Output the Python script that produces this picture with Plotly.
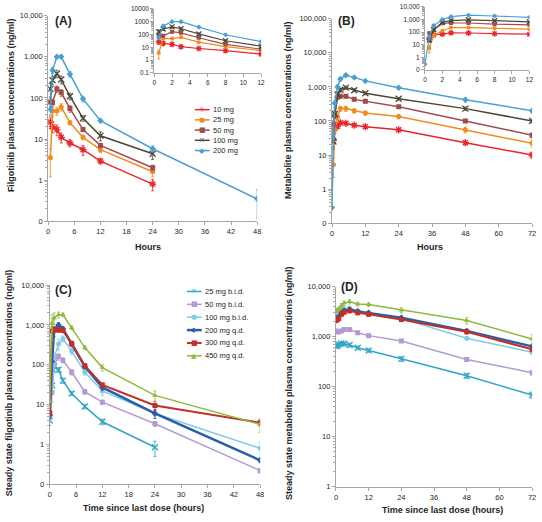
import plotly.graph_objects as go

W, H = 542, 522

# ---------------- Panel A: filgotinib, single dose (ng/ml) ----------------
a_labels = ["10 mg", "25 mg", "50 mg", "100 mg", "200 mg"]
a_time = [0.5, 1, 2, 3, 5, 8, 12, 24]
a_time_200 = [0.5, 1, 2, 3, 5, 8, 12, 24, 48]
a_10 = [26, 20, 17, 11, 8, 5.5, 2.9, 0.8]
a_10_sd = [8, 6, 5, 3, 1.5, 1.5, 0.4, 0.25]
a_25 = [3.5, 48, 48, 60, 25, 11, 5.5, 1.6]
a_25_sd = [2.3, 12, 10, 12, 3, 1.5, 0.8, 0.4]
a_50 = [80, 78, 165, 135, 55, 17, 7, 2.0]
a_50_sd = [20, 15, 30, 25, 10, 2, 0.8, 0.3]
a_100 = [165, 270, 390, 280, 110, 32, 12, 4.4]
a_100_sd = [60, 60, 80, 60, 20, 5, 3, 1.2]
a_200 = [53, 470, 1000, 1000, 380, 95, 28, 5.8, 0.35]
a_200_sd = [15, 80, 100, 100, 60, 15, 3, 1, 0.23]

# ---------------- Panel B: metabolite, single dose (ng/ml) ----------------
b_time = [0.5, 1, 2, 3, 5, 8, 12, 24, 48, 72]
b_time_200 = [0, 0.5, 1, 2, 3, 5, 8, 12, 24, 48, 72]
b_10 = [27, 60, 70, 88, 85, 75, 68, 55, 23, 10]
b_10_sd = [10, 12, 10, 10, 8, 7, 7, 6, 3, 2]
b_25 = [5.2, 55, 130, 230, 230, 200, 170, 135, 55, 22]
b_25_sd = [3, 12, 20, 40, 40, 30, 25, 20, 10, 5]
b_50 = [80, 150, 500, 530, 530, 430, 380, 260, 100, 38]
b_50_sd = [20, 30, 60, 60, 60, 40, 40, 25, 10, 6]
b_100 = [25, 160, 600, 820, 950, 800, 650, 450, 230, 100]
b_100_sd = [10, 40, 100, 100, 100, 80, 60, 40, 25, 12]
b_200 = [0.29, 42, 330, 1000, 1700, 2200, 1900, 1500, 950, 420, 200]
b_200_sd = [0, 15, 80, 150, 200, 200, 150, 150, 100, 60, 30]

# ---------------- Panel C: filgotinib, steady state (ng/ml) ----------------
c_labels = ["25 mg b.i.d.", "50 mg b.i.d.", "100 mg b.i.d.", "200 mg q.d.", "300 mg q.d.", "450 mg q.d."]
c_time = [0, 0.5, 1, 2, 3, 5, 8, 12, 24, 48]
c_time_25 = [0, 0.5, 1, 2, 3, 5, 8, 12, 24]
c_25 = [4, 30, 90, 75, 40, 19, 9, 3.7, 0.85]
c_25_sd = [1, 10, 25, 10, 6, 2, 1.2, 0.6, 0.35]
c_50 = [5, 20, 100, 160, 130, 65, 21, 11.5, 3.3, 0.22]
c_50_sd = [1, 8, 30, 30, 20, 10, 3, 1.5, 0.5, 0.03]
c_100 = [12, 30, 150, 330, 450, 220, 65, 22, 6, 0.8]
c_100_sd = [8, 10, 50, 100, 80, 40, 10, 5, 1.5, 0.35]
c_200 = [5.5, 120, 700, 1000, 800, 330, 90, 27, 6, 0.4]
c_200_sd = [1, 50, 200, 150, 100, 40, 10, 4, 1.5, 0.05]
c_300 = [6.2, 700, 780, 750, 730, 340, 95, 31, 9.5, 3.5]
c_300_sd = [1, 150, 100, 100, 100, 50, 12, 4, 2.5, 0.6]
c_450 = [12, 1100, 1500, 1800, 1800, 850, 270, 85, 17, 3.2]
c_450_sd = [3, 700, 500, 300, 200, 100, 30, 15, 5, 1.2]

# ---------------- Panel D: metabolite, steady state (ng/ml) ----------------
d_time = [0, 0.5, 1, 2, 3, 5, 8, 12, 24, 48, 72]
d_25 = [650, 660, 700, 730, 720, 680, 600, 530, 360, 165, 68]
d_25_sd = [60, 60, 60, 60, 60, 60, 50, 40, 40, 20, 10]
d_50 = [1300, 1250, 1250, 1300, 1400, 1400, 1200, 1050, 820, 350, 190]
d_50_sd = [100, 100, 100, 100, 100, 100, 100, 80, 60, 30, 20]
d_100 = [2900, 3000, 3100, 3400, 3600, 3700, 3300, 2900, 2300, 930, 490]
d_100_sd = [300, 300, 300, 300, 300, 300, 300, 250, 200, 80, 50]
d_200 = [2300, 2350, 2500, 3000, 3300, 3500, 3200, 3000, 2400, 1300, 640]
d_200_sd = [200, 200, 200, 250, 300, 300, 250, 250, 200, 120, 60]
d_300 = [2100, 2200, 2300, 2800, 3100, 3300, 3000, 2800, 2200, 1250, 560]
d_300_sd = [200, 200, 200, 250, 300, 300, 250, 250, 200, 120, 60]
d_450 = [3300, 3400, 3600, 4200, 4700, 5000, 4500, 4400, 3400, 2100, 900]
d_450_sd = [300, 300, 300, 400, 500, 500, 400, 400, 400, 300, 200]

# tick labels
main_ticks = [0.1, 1, 10, 100, 1000, 10000, 100000]
main_ticktext = ["0", "1", "10", "100", "1,000", "10,000", "100,000"]
insetA_ticktext = ["0.1", "1", "10", "100", "1000", "10000"]
x_ticks_48 = [0, 6, 12, 18, 24, 30, 36, 42, 48]
x_ticks_72 = [0, 12, 24, 36, 48, 60, 72]
x_ticks_inset = [0, 2, 4, 6, 8, 10, 12]

# colors / markers (style)
A_COL = ["#e8262b", "#f28a1e", "#a24b4b", "#4c4838", "#4aa0d3"]
A_SYM = ["asterisk-open", "circle", "square", "x-thin-open", "diamond"]
C_COL = ["#2ea6c6", "#b29bd2", "#7fcbe6", "#2a5ea8", "#c0302a", "#8cba3c"]
C_SYM = ["x-thin-open", "square", "circle", "diamond", "square", "triangle-up"]
C_WID = [1.5, 1.5, 1.5, 2.5, 2, 1.5]

AX = "#a6a6a6"
TXT = "#262626"
FONT = "Liberation Sans"


def px_x(p):
    return p / W


def px_y(p):
    return 1 - p / H


fig = go.Figure()


def marker(sym, col, size=5):
    if sym.endswith("open"):
        return dict(symbol=sym, size=size + 1, color=col, line=dict(width=1.3, color=col))
    return dict(symbol=sym, size=size, color=col, line=dict(width=0, color=col))


def add(x, y, sd, col, sym, xa, ya, width=1.5, size=5):
    fig.add_trace(go.Scatter(
        x=x, y=y, mode="lines+markers", xaxis=xa, yaxis=ya,
        line=dict(color=col, width=width),
        marker=marker(sym, col, size),
        error_y=dict(type="data", array=sd, color=col, thickness=0.8, width=1.5),
        showlegend=False, hoverinfo="x+y"))


def clip(t, v, s, tmax=12):
    idx = [i for i, tt in enumerate(t) if tt <= tmax]
    return [t[i] for i in idx], [v[i] for i in idx], [s[i] for i in idx]


A_series = [(a_time, a_10, a_10_sd), (a_time, a_25, a_25_sd), (a_time, a_50, a_50_sd),
            (a_time, a_100, a_100_sd), (a_time_200, a_200, a_200_sd)]
B_series = [(b_time, b_10, b_10_sd), (b_time, b_25, b_25_sd), (b_time, b_50, b_50_sd),
            (b_time, b_100, b_100_sd), (b_time_200, b_200, b_200_sd)]
C_series = [(c_time_25, c_25, c_25_sd), (c_time, c_50, c_50_sd), (c_time, c_100, c_100_sd),
            (c_time, c_200, c_200_sd), (c_time, c_300, c_300_sd), (c_time, c_450, c_450_sd)]
D_series = [(d_time, d_25, d_25_sd), (d_time, d_50, d_50_sd), (d_time, d_100, d_100_sd),
            (d_time, d_200, d_200_sd), (d_time, d_300, d_300_sd), (d_time, d_450, d_450_sd)]

for i, (t, v, s) in enumerate(A_series):
    add(t, v, s, A_COL[i], A_SYM[i], "x", "y")
    tt, vv, ss = clip(t, v, s)
    add(tt, vv, ss, A_COL[i], A_SYM[i], "x2", "y2", width=1.2, size=4)
for i, (t, v, s) in enumerate(B_series):
    add(t, v, s, A_COL[i], A_SYM[i], "x3", "y3")
    tt, vv, ss = clip(t, v, s)
    add(tt, vv, ss, A_COL[i], A_SYM[i], "x4", "y4", width=1.2, size=4)
for i, (t, v, s) in enumerate(C_series):
    add(t, v, s, C_COL[i], C_SYM[i], "x5", "y5", width=C_WID[i])
for i, (t, v, s) in enumerate(D_series):
    add(t, v, s, C_COL[i], C_SYM[i], "x6", "y6", width=C_WID[i])


def minor_vals(lo, hi):
    return [m * 10 ** e for e in range(lo, hi) for m in range(2, 10)]


def xax(xl, xr, yb, rng, ticks, fs=7.5):
    return dict(domain=[px_x(xl), px_x(xr)], anchor=None, range=rng, tickvals=ticks,
                showline=True, linecolor=AX, linewidth=1, ticks="outside", ticklen=3,
                tickcolor=AX, showgrid=False, zeroline=False, ticklabeloverflow="allow",
                tickfont=dict(size=fs, color=TXT, family=FONT))


def yax(yt, yb, lo, hi, text, fs=7.5):
    vals = [v for v in main_ticks if 10 ** lo <= v <= 10 ** hi]
    txt = [text[main_ticks.index(v)] if text is main_ticktext else text[i] for i, v in enumerate(vals)]
    return dict(domain=[px_y(yb), px_y(yt)], type="log", range=[lo, hi], tickvals=vals, ticktext=txt,
                showline=True, linecolor=AX, linewidth=1, ticks="outside", ticklen=3,
                tickcolor=AX, showgrid=False, zeroline=False, ticklabeloverflow="allow",
                minor=dict(tickvals=minor_vals(lo, hi), ticks="outside", ticklen=2, tickcolor=AX),
                tickfont=dict(size=fs, color=TXT, family=FONT))


layout = dict(width=W, height=H, autosize=False, margin=dict(l=0, r=0, t=0, b=0),
              paper_bgcolor="white", plot_bgcolor="rgba(0,0,0,0)", showlegend=False)

layout["xaxis"] = xax(46.7, 258, 221, [0, 48], x_ticks_48)
layout["yaxis"] = yax(12, 221, -1, 4, main_ticktext)
layout["xaxis2"] = xax(154, 262, 70, [0, 12], x_ticks_inset, fs=6.5)
layout["yaxis2"] = yax(5, 70, -1, 4, insetA_ticktext, fs=6.5)
layout["xaxis3"] = xax(333.7, 536, 223, [0, 72], x_ticks_72)
layout["yaxis3"] = yax(15, 223, -1, 5, main_ticktext)
layout["xaxis4"] = xax(427.7, 533.3, 67, [0, 12], x_ticks_inset, fs=6.5)
layout["yaxis4"] = yax(3, 67, -1, 4, main_ticktext, fs=6.5)
layout["xaxis5"] = xax(48.3, 261, 488.7, [0, 48], x_ticks_48)
layout["yaxis5"] = yax(286, 488.7, -1, 4, main_ticktext)
layout["xaxis6"] = xax(337.7, 536, 491, [0, 72], x_ticks_72)
layout["yaxis6"] = yax(287.7, 491, 0, 4, main_ticktext)
for i in range(1, 7):
    s = "" if i == 1 else str(i)
    layout["xaxis" + s]["anchor"] = "y" + s
    layout["yaxis" + s]["anchor"] = "x" + s

ann = []
shapes = []


def label(x, y, text, size=9, angle=0, bold=True, xanchor="center"):
    ann.append(dict(x=px_x(x), y=px_y(y), xref="paper", yref="paper", showarrow=False,
                    text=("<b>%s</b>" % text) if bold else text, textangle=angle,
                    xanchor=xanchor, yanchor="middle",
                    font=dict(size=size, color=TXT, family=FONT)))


# panel letters
label(62, 17, "(A)", size=12)
label(348, 17, "(B)", size=12)
label(62, 291, "(C)", size=12)
label(351, 288, "(D)", size=12)
# axis titles
label(147.5, 247, "Hours")
label(433, 247, "Hours")
label(143, 513, "Time since last dose (hours)")
label(445, 515, "Time since last dose (hours)")
label(9, 103, "Filgotinib plasma concentrations (ng/ml)", angle=-90)
label(289, 108, "Metabolite plasma concentrations (ng/ml)", angle=-90)
label(7, 385, "Steady state filgotinib plasma concentrations (ng/ml)", angle=-90)
label(291, 386, "Steady state metabolite plasma concentrations (ng/ml)", angle=-90)

GLYPH = {"asterisk-open": "✳", "x-thin-open": "×", "circle": "●", "square": "■",
         "diamond": "◆", "triangle-up": "▲"}


def legend(names, cols, syms, x0, x1, xt, y0, dy, widths=None):
    for i, n in enumerate(names):
        y = y0 + i * dy
        w = widths[i] if widths else 1.5
        shapes.append(dict(type="line", xref="paper", yref="paper", x0=px_x(x0), x1=px_x(x1),
                           y0=px_y(y), y1=px_y(y), line=dict(color=cols[i], width=w)))
        ann.append(dict(x=px_x((x0 + x1) / 2), y=px_y(y), xref="paper", yref="paper",
                        showarrow=False, text=GLYPH[syms[i]], xanchor="center", yanchor="middle",
                        font=dict(size=7, color=cols[i], family="DejaVu Sans")))
        label(xt, y, n, size=7.5, bold=False, xanchor="left")


legend(a_labels, A_COL, A_SYM, 195, 210, 211, 107.5, 10.4)
legend(c_labels, C_COL, C_SYM, 187, 202, 203, 292.5, 13.1, C_WID)

layout["annotations"] = ann
layout["shapes"] = shapes
fig.update_layout(**layout)
fig.write_html("out.html", config={"displayModeBar": False},
               post_script="document.body.style.margin='0';document.body.style.overflow='hidden';")
